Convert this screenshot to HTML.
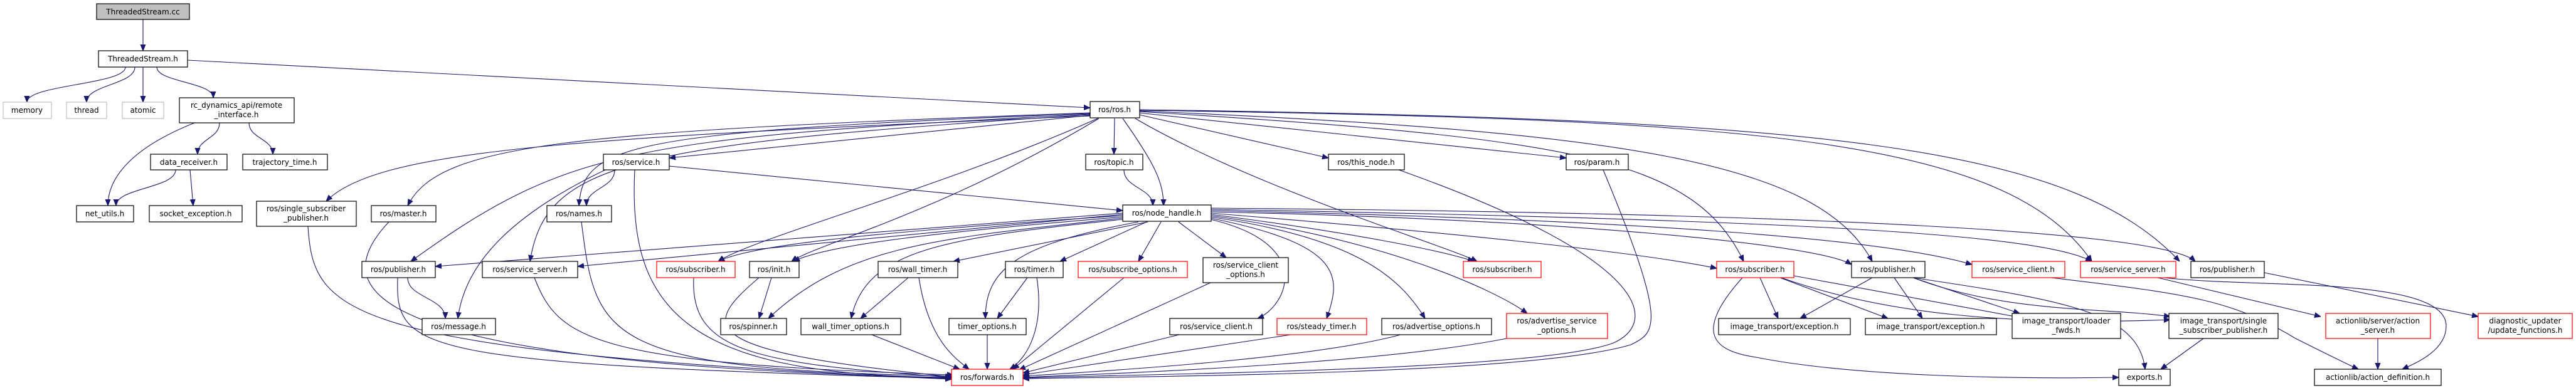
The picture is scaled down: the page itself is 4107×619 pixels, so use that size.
<!DOCTYPE html>
<html><head><meta charset="utf-8"><style>
html,body{margin:0;padding:0;background:#fff}
svg{display:block}
text{font-family:"DejaVu Sans","Liberation Sans",sans-serif;font-size:12px;fill:#000;text-anchor:middle}
.n{fill:#fff;stroke:#000;stroke-width:1.2}
.r{fill:#fff;stroke:#f00;stroke-width:1.2}
.g{fill:#fff;stroke:#bfbfbf;stroke-width:1.2}
.e{fill:none;stroke:#191970;stroke-width:1.1}
</style></head><body>
<svg width="4107" height="619" viewBox="0 0 4107 619" xmlns="http://www.w3.org/2000/svg">
<defs><marker id="a" viewBox="0 0 10 10" refX="10" refY="5" markerWidth="10" markerHeight="10" markerUnits="userSpaceOnUse" orient="auto"><path d="M0,1 L10,5 L0,9 z" fill="#191970" stroke="#191970"/></marker></defs>
<g class="e" marker-end="url(#a)">
<path d="M228,31 L228,81"/>
<path d="M200,107 C200,135 43,135 43,163"/>
<path d="M215,107 C215,135 138,135 138,163"/>
<path d="M228,107 L228,163"/>
<path d="M250,107 C250,131 340,131 340,156"/>
<path d="M299,96 L1738,172"/>
<path d="M310,196 C200,240 172,290 172,328"/>
<path d="M350,196 C350,221 315,221 315,246"/>
<path d="M397,196 C397,221 435,221 435,246"/>
<path d="M280,271 C280,300 185,300 185,328"/>
<path d="M303,271 L308,328"/>
<path d="M1738,185 C900,220 600,240 520,321"/>
<path d="M1738,180 C900,210 700,230 650,328"/>
<path d="M1738,182 C1000,220 900,240 655,417"/>
<path d="M1738,183 C1000,230 870,260 845,417"/>
<path d="M1738,181 C1000,210 930,230 923,328"/>
<path d="M1738,184 L1067,252"/>
<path d="M1777,189 L1776,246"/>
<path d="M1790,189 C1840,260 1855,290 1855,328"/>
<path d="M1750,189 C1500,300 1200,380 1145,417"/>
<path d="M1752,189 C1500,340 1300,390 1262,417"/>
<path d="M1816,183 L2118,252"/>
<path d="M1816,180 L2497,252"/>
<path d="M1810,189 C2000,300 2300,390 2355,417"/>
<path d="M1816,178 C2500,220 2700,250 2780,417"/>
<path d="M1816,177 C2600,210 2900,260 2985,417"/>
<path d="M1816,176 C2800,190 3200,220 3335,417"/>
<path d="M1816,175 C2900,190 3300,230 3475,417"/>
<path d="M980,271 C980,300 935,300 935,328"/>
<path d="M965,271 C800,350 740,430 730,508"/>
<path d="M1067,265 L1790,336"/>
<path d="M1012,271 C1000,500 1100,600 1517,602"/>
<path d="M491,361 C500,500 540,560 1517,605"/>
<path d="M620,354 C520,460 560,580 1517,603"/>
<path d="M927,354 C950,540 960,590 1520,600"/>
<path d="M650,443 C650,475 710,475 710,508"/>
<path d="M634,443 C630,560 660,580 1517,604"/>
<path d="M852,443 C890,540 940,580 1520,598"/>
<path d="M1792,271 C1792,300 1838,300 1838,328"/>
<path d="M1790,340 L694,425"/>
<path d="M1790,342 L921,425"/>
<path d="M1790,344 C1400,370 1200,390 1145,417"/>
<path d="M1790,346 C1500,370 1320,390 1265,417"/>
<path d="M1790,348 C1500,380 1350,390 1225,508"/>
<path d="M1790,350 C1500,380 1380,400 1357,508"/>
<path d="M1830,354 L1520,417"/>
<path d="M1815,354 C1620,390 1571,430 1571,508"/>
<path d="M1828,354 L1690,417"/>
<path d="M1851,354 L1815,417"/>
<path d="M1879,354 L1955,411"/>
<path d="M1930,350 C2100,390 2050,490 2005,508"/>
<path d="M1930,348 C2140,390 2140,440 2115,508"/>
<path d="M1930,346 C2160,380 2230,440 2272,508"/>
<path d="M1930,344 C2200,380 2380,460 2435,500"/>
<path d="M1930,342 C2150,370 2300,400 2350,417"/>
<path d="M1930,340 C2300,370 2600,400 2737,428"/>
<path d="M1930,338 C2500,350 2900,390 2952,422"/>
<path d="M1930,336 C2600,350 3000,380 3144,422"/>
<path d="M1930,334 C2800,350 3250,370 3335,417"/>
<path d="M1930,332 C2900,340 3450,370 3500,417"/>
<path d="M1106,443 C1100,560 1200,580 1517,602"/>
<path d="M1230,443 L1210,508"/>
<path d="M1210,443 C1120,520 1100,560 1517,601"/>
<path d="M1448,443 L1372,508"/>
<path d="M1465,443 C1480,540 1520,570 1545,589"/>
<path d="M1638,443 L1590,508"/>
<path d="M1653,443 C1665,520 1640,570 1610,589"/>
<path d="M1792,443 L1615,589"/>
<path d="M1930,451 L1625,590"/>
<path d="M1390,534 L1530,589"/>
<path d="M1574,534 L1574,589"/>
<path d="M1880,534 L1631,595"/>
<path d="M2058,534 L1631,598"/>
<path d="M2233,534 C2100,570 1800,590 1631,600"/>
<path d="M2402,540 C2200,580 1800,595 1631,602"/>
<path d="M2230,271 C2650,420 2640,520 2570,548 C2450,590 1900,595 1631,603"/>
<path d="M2556,271 C2660,520 2640,530 2600,550 C2450,595 1900,600 1631,604"/>
<path d="M2806,443 L2835,508"/>
<path d="M2838,443 L3010,508"/>
<path d="M2778,443 C2700,530 2730,560 2800,570 C2950,600 3200,605 3378,602"/>
<path d="M2860,440 L3240,510"/>
<path d="M2840,443 C3000,500 3200,520 3460,510"/>
<path d="M2985,443 L2870,508"/>
<path d="M3020,443 L3065,508"/>
<path d="M3050,443 L3220,500"/>
<path d="M3050,443 C3200,500 3350,490 3460,505"/>
<path d="M3050,443 C3300,480 3410,500 3420,589"/>
<path d="M3270,443 C3500,470 3560,480 3660,540 C3700,560 3740,580 3760,589"/>
<path d="M3440,443 L3700,505"/>
<path d="M3450,443 C3600,460 3900,440 3900,520 C3900,560 3850,580 3830,589"/>
<path d="M3610,435 L3951,505"/>
<path d="M3791,540 L3791,589"/>
<path d="M3513,540 L3445,589"/>
</g>
<g>
<rect x="154" y="6" width="148" height="25" fill="#bfbfbf" stroke="#000" stroke-width="1.2"/><text x="228" y="23">ThreadedStream.cc</text>
<rect class="n" x="157" y="81" width="142" height="26"/><text x="228" y="98">ThreadedStream.h</text>
<rect class="g" x="5" y="163" width="77" height="26"/><text x="43" y="180">memory</text>
<rect class="g" x="106" y="163" width="64" height="26"/><text x="138" y="180">thread</text>
<rect class="g" x="195" y="163" width="66" height="26"/><text x="228" y="180">atomic</text>
<rect class="n" x="286" y="156" width="183" height="40"/><text x="377" y="172">rc_dynamics_api/remote</text><text x="377" y="187">_interface.h</text>
<rect class="n" x="240" y="246" width="122" height="25"/><text x="301" y="263">data_receiver.h</text>
<rect class="n" x="387" y="246" width="135" height="25"/><text x="454" y="263">trajectory_time.h</text>
<rect class="n" x="122" y="328" width="91" height="26"/><text x="167" y="345">net_utils.h</text>
<rect class="n" x="238" y="328" width="148" height="26"/><text x="312" y="345">socket_exception.h</text>
<rect class="n" x="409" y="321" width="159" height="40"/><text x="488" y="337">ros/single_subscriber</text><text x="488" y="352">_publisher.h</text>
<rect class="n" x="592" y="328" width="103" height="26"/><text x="643" y="345">ros/master.h</text>
<rect class="n" x="872" y="328" width="103" height="26"/><text x="923" y="345">ros/names.h</text>
<rect class="n" x="577" y="417" width="117" height="26"/><text x="635" y="434">ros/publisher.h</text>
<rect class="n" x="769" y="417" width="152" height="26"/><text x="845" y="434">ros/service_server.h</text>
<rect class="n" x="673" y="508" width="117" height="26"/><text x="731" y="525">ros/message.h</text>
<rect class="n" x="962" y="246" width="105" height="25"/><text x="1014" y="263">ros/service.h</text>
<rect class="n" x="1738" y="162" width="79" height="26"/><text x="1777" y="179">ros/ros.h</text>
<rect class="n" x="1731" y="246" width="91" height="25"/><text x="1776" y="263">ros/topic.h</text>
<rect class="n" x="1790" y="327" width="141" height="26"/><text x="1860" y="344">ros/node_handle.h</text>
<rect class="r" x="1047" y="417" width="125" height="26"/><text x="1109" y="434">ros/subscriber.h</text>
<rect class="n" x="1195" y="417" width="79" height="26"/><text x="1234" y="434">ros/init.h</text>
<rect class="n" x="1400" y="417" width="127" height="26"/><text x="1463" y="434">ros/wall_timer.h</text>
<rect class="n" x="1603" y="417" width="92" height="26"/><text x="1649" y="434">ros/timer.h</text>
<rect class="r" x="1719" y="417" width="174" height="26"/><text x="1806" y="434">ros/subscribe_options.h</text>
<rect class="n" x="1918" y="411" width="136" height="40"/><text x="1986" y="427">ros/service_client</text><text x="1986" y="442">_options.h</text>
<rect class="n" x="1149" y="508" width="105" height="26"/><text x="1201" y="525">ros/spinner.h</text>
<rect class="n" x="1277" y="508" width="159" height="26"/><text x="1356" y="525">wall_timer_options.h</text>
<rect class="n" x="1513" y="508" width="123" height="26"/><text x="1574" y="525">timer_options.h</text>
<rect class="n" x="1865" y="508" width="148" height="26"/><text x="1939" y="525">ros/service_client.h</text>
<rect class="r" x="1517" y="589" width="114" height="26"/><text x="1574" y="606">ros/forwards.h</text>
<rect class="n" x="2118" y="246" width="121" height="25"/><text x="2178" y="263">ros/this_node.h</text>
<rect class="n" x="2497" y="246" width="99" height="25"/><text x="2546" y="263">ros/param.h</text>
<rect class="r" x="2333" y="417" width="124" height="26"/><text x="2395" y="434">ros/subscriber.h</text>
<rect class="r" x="2737" y="417" width="123" height="26"/><text x="2798" y="434">ros/subscriber.h</text>
<rect class="n" x="2952" y="417" width="117" height="26"/><text x="3010" y="434">ros/publisher.h</text>
<rect class="r" x="2036" y="508" width="143" height="26"/><text x="2107" y="525">ros/steady_timer.h</text>
<rect class="n" x="2203" y="508" width="175" height="26"/><text x="2290" y="525">ros/advertise_options.h</text>
<rect class="r" x="2402" y="500" width="161" height="40"/><text x="2482" y="516">ros/advertise_service</text><text x="2482" y="531">_options.h</text>
<rect class="n" x="2740" y="508" width="210" height="26"/><text x="2845" y="525">image_transport/exception.h</text>
<rect class="n" x="2974" y="508" width="209" height="26"/><text x="3078" y="525">image_transport/exception.h</text>
<rect class="r" x="3144" y="417" width="148" height="26"/><text x="3218" y="434">ros/service_client.h</text>
<rect class="r" x="3317" y="417" width="152" height="26"/><text x="3393" y="434">ros/service_server.h</text>
<rect class="n" x="3493" y="417" width="117" height="26"/><text x="3551" y="434">ros/publisher.h</text>
<rect class="n" x="3208" y="500" width="173" height="40"/><text x="3294" y="516">image_transport/loader</text><text x="3294" y="531">_fwds.h</text>
<rect class="n" x="3458" y="500" width="174" height="40"/><text x="3545" y="516">image_transport/single</text><text x="3545" y="531">_subscriber_publisher.h</text>
<rect class="r" x="3708" y="500" width="167" height="40"/><text x="3791" y="516">actionlib/server/action</text><text x="3791" y="531">_server.h</text>
<rect class="r" x="3951" y="500" width="150" height="40"/><text x="4026" y="516">diagnostic_updater</text><text x="4026" y="531">/update_functions.h</text>
<rect class="n" x="3378" y="589" width="82" height="26"/><text x="3419" y="606">exports.h</text>
<rect class="n" x="3690" y="589" width="202" height="26"/><text x="3791" y="606">actionlib/action_definition.h</text>
</g>
</svg>
</body></html>
